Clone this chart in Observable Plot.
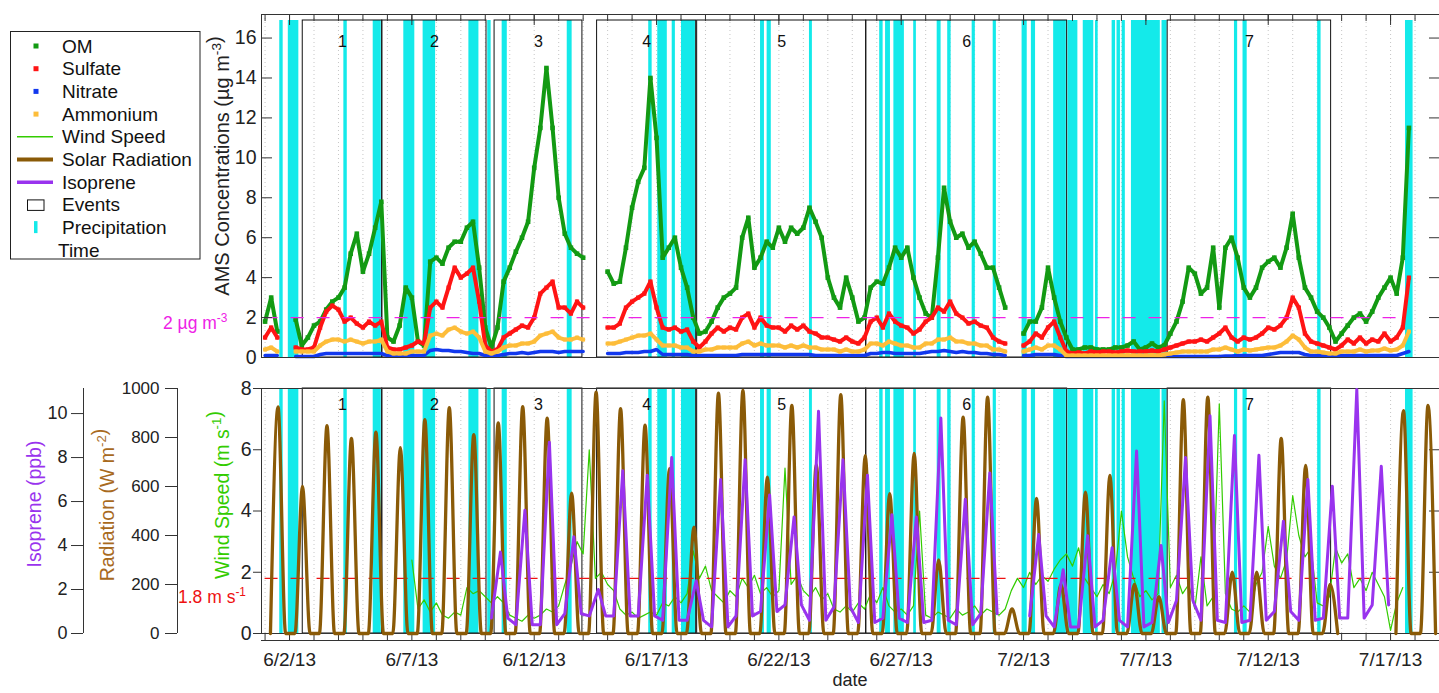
<!DOCTYPE html>
<html><head><meta charset="utf-8">
<script src="https://cdn.jsdelivr.net/npm/d3@7"></script>
<script src="https://cdn.jsdelivr.net/npm/@observablehq/plot@0.6"></script>
<style>
html,body{margin:0;padding:0;background:#fff;}
#chart{position:relative;width:1439px;height:693px;overflow:hidden;font-family:"Liberation Sans",Arial,sans-serif;background:#fff;}
#chart svg{position:absolute;}
</style></head><body><div id="chart"></div>
<script>
// ---------- DATA (times are days since 2013-06-02 00:00 UTC) ----------
const AMS_START = -1, AMS_STEP = 0.25;           // 6-hourly AMS readings
const OM = [
1.8,3.0,1.3,null, null,1.9,0.6,1.0, 1.6,1.8,2.4,2.8, 3.0,3.5,5.2,6.2, 4.3,5.2,6.5,7.8,
1.0,0.8,1.6,3.5, 3.0,0.8,0.6,4.8, 5.0,4.7,5.5,5.8, 5.8,6.5,6.8,4.5, 1.5,0.5,1.5,3.8,
4.5,5.3,6.0,6.8, 9.5,11.5,14.5,11.5, 8.0,6.2,5.5,5.2, 5.0,null,null,null, 4.3,3.7,3.8,5.5,
7.5,8.8,9.5,14.0, 11.0,5.0,5.5,6.0, 4.5,3.5,2.0,1.2, 1.3,1.8,2.5,3.0, 3.2,3.5,6.0,7.0,
4.5,5.0,5.8,5.5, 6.5,5.8,6.5,6.2, 6.5,7.5,6.8,6.0, 4.0,3.0,2.5,4.0, 3.0,1.8,2.0,3.5,
3.8,3.7,4.5,5.5, 5.0,5.5,4.0,3.0, 2.2,2.0,5.0,8.5, 6.8,6.0,6.2,5.5, 5.8,5.2,4.5,4.5,
3.5,2.5,null,null, 1.2,1.8,1.8,2.5, 4.5,3.0,1.8,1.0, 0.4,0.4,0.5,0.5, 0.4,0.4,0.4,0.5,
0.5,0.6,0.8,0.4, 0.5,0.7,0.5,0.6, 1.2,1.8,2.8,4.5, 4.2,3.2,3.5,5.5, 2.5,5.5,6.0,5.0,
3.5,3.0,3.5,4.5, 4.8,5.0,4.5,5.5, 7.2,5.0,3.5,3.0, 2.3,2.0,1.5,0.8, 1.2,1.6,2.0,2.2,
1.8,2.3,3.0,3.5, 4.0,3.2,5.0,11.5];
const SULFATE = [
1.0,1.5,1.0,null, null,0.5,0.4,0.4, 0.5,1.5,2.3,2.6, 2.4,1.8,2.0,1.7, 1.5,1.8,1.6,1.8,
0.5,0.4,0.4,0.5, 0.6,0.8,0.7,2.5, 2.8,2.5,3.5,4.5, 4.0,4.2,4.5,2.8, 0.6,0.3,0.4,1.0,
1.2,1.4,1.6,1.5, 2.0,3.2,3.5,3.8, 2.5,2.5,2.2,2.8, 2.5,null,null,null, 1.5,1.5,1.7,2.5,
2.8,3.0,3.2,3.8, 2.5,1.5,1.4,1.5, 1.3,1.4,0.8,0.5, 0.8,1.2,1.5,1.3, 1.5,1.4,2.0,2.2,
1.5,2.0,1.6,1.5, 1.5,1.3,1.6,1.4, 1.6,1.3,1.2,1.0, 1.0,0.9,0.8,1.0, 0.8,0.7,1.0,1.8,
2.0,1.5,2.2,1.8, 1.6,1.5,1.2,1.4, 1.8,2.0,2.5,2.3, 2.8,2.2,2.0,1.7, 1.8,1.6,1.5,1.0,
0.8,0.7,null,null, 0.6,0.8,1.2,1.0, 1.5,1.8,1.0,0.3, 0.2,0.25,0.2,0.3, 0.25,0.3,0.3,0.25,
0.3,0.35,0.3,0.3, 0.3,0.35,0.3,0.4, 0.5,0.6,0.7,0.8, 0.8,0.9,0.8,1.0, 1.2,1.5,1.0,0.8,
1.0,0.9,1.0,1.2, 1.5,1.4,1.6,2.0, 3.0,2.5,1.2,0.8, 0.7,0.6,0.5,0.4, 0.6,0.9,0.7,1.0,
0.7,0.9,0.8,1.2, 0.8,1.0,1.5,4.0];
const NITRATE = [
0.1,0.1,0.1,null, null,0.05,0.05,0.05, 0.05,0.15,0.2,0.2, 0.2,0.2,0.2,0.2, 0.2,0.2,0.2,0.2,
0.1,0.1,0.1,0.1, 0.1,0.1,0.1,0.35, 0.4,0.35,0.35,0.3, 0.3,0.25,0.2,0.2, 0.1,0.1,0.1,0.15,
0.2,0.2,0.25,0.2, 0.25,0.3,0.3,0.3, 0.25,0.3,0.3,0.3, 0.3,null,null,null, 0.2,0.2,0.2,0.25,
0.25,0.25,0.3,0.3, 0.4,0.15,0.15,0.15, 0.15,0.15,0.1,0.1, 0.1,0.1,0.1,0.1, 0.1,0.1,0.15,0.15,
0.15,0.15,0.15,0.15, 0.15,0.15,0.15,0.15, 0.15,0.15,0.1,0.1, 0.1,0.1,0.1,0.1, 0.1,0.1,0.1,0.2,
0.2,0.25,0.25,0.2, 0.2,0.2,0.2,0.2, 0.25,0.3,0.3,0.35, 0.3,0.25,0.3,0.25, 0.25,0.2,0.2,0.15,
0.15,0.1,null,null, 0.1,0.1,0.15,0.15, 0.15,0.15,0.1,0.05, 0.05,0.05,0.05,0.05, 0.05,0.05,0.05,0.05,
0.05,0.05,0.05,0.05, 0.05,0.05,0.05,0.05, 0.05,0.05,0.05,0.05, 0.05,0.05,0.05,0.05, 0.05,0.08,0.08,0.1,
0.1,0.1,0.1,0.1, 0.15,0.2,0.25,0.25, 0.25,0.25,0.15,0.1, 0.1,0.1,0.1,0.08, 0.1,0.1,0.1,0.1,
0.1,0.1,0.1,0.1, 0.1,0.1,0.2,0.3];
const AMMONIUM = [
0.4,0.5,0.3,null, null,0.3,0.3,0.3, 0.3,0.6,0.8,0.9, 0.9,0.8,0.9,0.8, 0.7,0.8,0.8,0.9,
0.3,0.2,0.2,0.2, 0.3,0.3,0.3,1.1, 1.2,1.1,1.4,1.5, 1.3,1.2,1.3,1.0, 0.3,0.2,0.3,0.5,
0.6,0.6,0.7,0.7, 0.8,1.1,1.2,1.3, 1.0,0.9,0.9,1.0, 0.9,null,null,null, 0.7,0.7,0.8,0.9,
1.0,1.1,1.1,1.2, 0.9,0.6,0.6,0.6, 0.5,0.5,0.3,0.3, 0.4,0.4,0.5,0.5, 0.5,0.5,0.7,0.8,
0.6,0.7,0.6,0.6, 0.6,0.5,0.6,0.5, 0.6,0.5,0.5,0.4, 0.4,0.4,0.3,0.4, 0.3,0.3,0.4,0.7,
0.7,0.6,0.8,0.7, 0.6,0.6,0.5,0.5, 0.7,0.7,0.9,0.9, 1.0,0.8,0.8,0.7, 0.7,0.6,0.6,0.4,
0.4,0.3,null,null, 0.3,0.4,0.5,0.4, 0.6,0.6,0.4,0.1, 0.1,0.1,0.1,0.1, 0.1,0.1,0.1,0.1,
0.1,0.12,0.1,0.1, 0.1,0.12,0.1,0.15, 0.2,0.25,0.3,0.3, 0.3,0.3,0.3,0.4, 0.4,0.5,0.4,0.3,
0.4,0.35,0.4,0.45, 0.5,0.5,0.6,0.8, 1.1,0.9,0.5,0.3, 0.3,0.25,0.2,0.2, 0.3,0.3,0.3,0.4,
0.3,0.35,0.35,0.45, 0.35,0.4,0.6,1.3];

const WIND_START = 5, WIND_STEP = 0.25;          // 6-hourly wind speed (m/s)
const WIND = [
2.4,0.8,1.1,0.7, 1.0,0.6,0.5,0.7, 0.6,1.5,1.3,1.4, 1.2,1.0,1.2,1.0, 0.6,0.5,0.4,0.6,
0.5,0.6,0.8,0.7, 0.9,1.6,2.2,3.0, 2.6,6.0,1.8,2.0, 1.6,1.4,0.8,0.6, 0.7,0.5,0.6,0.7,
0.6,1.0,0.9,1.2, 1.0,1.3,2.7,1.8, 2.2,1.4,1.2,1.0, 1.4,1.2,1.8,1.5, 1.9,1.3,1.5,1.2,
1.4,5.4,1.6,1.9, 1.4,1.2,1.5,1.1, 1.3,0.8,0.7,0.9, 0.7,1.0,0.8,1.3, 1.0,1.5,0.9,0.7,
0.8,0.6,0.9,4.0, 0.6,0.5,0.7,0.6, 0.5,0.8,0.6,0.7, 0.9,0.6,0.8,0.7, 0.6,0.8,1.4,1.8,
1.5,2.0,1.6,1.9, 1.7,2.1,2.4,2.6, 2.2,2.8,1.8,1.5, 1.2,1.6,1.3,2.0, 4.0,2.5,1.8,1.2,
1.4,1.1,1.3,7.6, 1.5,1.9,1.3,1.6, 0.8,2.5,0.9,1.2, 7.5,1.3,0.8,0.7, 0.9,0.7,1.6,2.0,
3.5,2.2,1.8,2.4, 4.5,3.2,2.5,2.8, 1.0,0.9,1.2,2.8, 2.3,2.6,1.5,1.8, 1.4,2.0,1.6,1.2,
0.1,1.0,1.5];

const RAD_FIRST_DAY = -1;                          // daily solar-radiation peaks (W m-2), 6/1 .. 7/18
const RAD_PEAK = [925,600,848,796,822,759,873,922,812,860,926,879,573,985,918,850,673,434,981,992,
638,931,690,975,726,571,735,300,883,965,100,551,200,577,645,200,150,955,965,250,250,796,686,200,null,null,910,931];
const SUNRISE = 0.22, SOLAR_NOON = 0.53, SUNSET = 0.84;

const ISO_FIRST_DAY = 8;                           // daily isoprene peak / night level (ppb), 6/10 .. 7/16
const ISO_PEAK = [3.7,5.6,8.7,4.4,2.0,7.4,7.2,8.0,2.4,7.0,7.9,6.3,5.3,10.1,7.9,7.2,5.4,5.3,9.8,6.1,7.3,null,
4.5,2.9,4.45,3.9,8.3,4.0,8.0,9.9,9.0,8.1,5.1,7.0,6.7,11.1,7.6];
const ISO_LOW = [0.7,0.4,0.4,0.9,0.8,0.8,0.8,0.6,0.6,0.3,0.8,1.0,1.3,0.6,1.2,0.5,0.7,0.5,0.6,0.4,0.9,null,
0.8,0.3,0.3,0.6,0.3,0.5,1.5,0.6,0.5,0.6,1.0,0.6,0.7,0.7,1.3];
const ISO_RISE = 0.25, ISO_TOP = 0.62, ISO_FALL = 0.92;

const RAIN_START = [-0.40,-0.05,2.22,3.42,4.67,5.46,7.33,8.10,8.69,11.35,14.68,15.05,15.64,16.02,19.25,19.52,21.25,
24.12,24.36,24.70,25.51,26.47,26.90,27.90,28.76,29.94,30.32,31.23,31.81,32.44,32.94,33.62,33.82,34.03,34.41,35.66,38.62,38.97,42.02,45.61];
const RAIN_END = [-0.26,0.38,2.36,3.75,5.12,5.97,7.74,8.24,8.90,11.55,14.82,15.44,15.77,16.59,19.41,19.69,21.37,
24.26,24.56,25.13,25.62,26.63,27.04,28.03,28.89,30.15,30.49,31.75,32.22,32.87,33.05,33.76,33.96,34.16,35.59,35.87,38.75,39.14,42.16,45.92];

const EVENT_START = [0.54,3.79,8.38,12.57,16.66,23.57,35.89];
const EVENT_END   = [3.79,8.05,11.97,16.62,23.57,31.78,42.57];
const EVENT_LABEL = ["1","2","3","4","5","6","7"];

const DATE_TICK_LABELS = ["6/2/13","6/7/13","6/12/13","6/17/13","6/22/13","6/27/13","7/2/13","7/7/13","7/12/13","7/17/13"];
const AMS_TICKS = [0,2,4,6,8,10,12,14,16];
const WIND_TICKS = [0,2,4,6,8];
const RAD_TICKS = [0,200,400,600,800,1000];
const ISO_TICKS = [0,2,4,6,8,10];
const AMS_THRESHOLD = 2, WIND_THRESHOLD = 1.8;

// ---------- COLOURS ----------
const C = {om:"#139a13", so4:"#ff1414", no3:"#1238ee", nh4:"#fdbd3a", wind:"#33cc00", rad:"#8a5a07",
  iso:"#9933ee", rain:"#14eaea", mag:"#ee22e6", red:"#ee1111", ink:"#222"};

// ---------- BUILD TABLES ----------
const BASE = Date.UTC(2013,5,2);
const toDate = d => new Date(BASE + d*864e5);
const series = (arr, start, step) => arr.map((v,i) => ({t: toDate(start + i*step), v: v == null ? NaN : v}));
const om = series(OM, AMS_START, AMS_STEP), so4 = series(SULFATE, AMS_START, AMS_STEP),
      no3 = series(NITRATE, AMS_START, AMS_STEP), nh4 = series(AMMONIUM, AMS_START, AMS_STEP);
const wind = series(WIND, WIND_START, WIND_STEP);
const rad = RAD_PEAK.flatMap((p,i) => { const d = RAD_FIRST_DAY + i;
  return p == null ? [{t: toDate(d+SOLAR_NOON), v: NaN}] :
    [{t:toDate(d+SUNRISE), v:0},{t:toDate(d+SOLAR_NOON), v:p},{t:toDate(d+SUNSET), v:0}]; });
const iso = ISO_PEAK.flatMap((p,i) => { const d = ISO_FIRST_DAY + i, lo = ISO_LOW[i];
  return p == null ? [{t: toDate(d+ISO_TOP), v: NaN}] :
    [{t:toDate(d+ISO_RISE), v:lo},{t:toDate(d+ISO_TOP), v:p},{t:toDate(d+ISO_FALL), v:lo}]; });
const rain = RAIN_START.map((s,i) => ({start: toDate(s), end: toDate(RAIN_END[i])}));
const events = EVENT_START.map((s,i) => ({start: toDate(s), end: toDate(EVENT_END[i]),
  mid: toDate((s + EVENT_END[i]) / 2), label: EVENT_LABEL[i]}));
const parseTick = d3.utcParse("%m/%d/%y");
const dateTicks = DATE_TICK_LABELS.map(parseTick);
const dayTicks = d3.utcDay.range(parseTick("6/1/13"), parseTick("7/19/13"));
const fmtTick = d3.utcFormat("%-m/%-d/%y");
const firstT = () => om[0].t, lastT = () => om[om.length-1].t;

const X = {type:"utc", domain:[new Date(Date.UTC(2013,4,31,20,30)), new Date(Date.UTC(2013,6,19))], axis:null};
const FONT = '"Liberation Sans", Arial, sans-serif';
const st = (top, left=0) => ({position:"absolute", left:left+"px", top:top+"px", background:"transparent", fontFamily:FONT, color:C.ink, overflow:"visible"});
const blank = () => "";
const plain = d => String(d);
const chart = document.getElementById("chart");

// ---------- TOP PANEL: AMS ----------
const topPlot = Plot.plot({
  width:1439, height:370, marginLeft:261, marginRight:0, marginTop:14, marginBottom:13,
  x:X, y:{domain:[0,17.18], axis:null}, style:{...st(0), background:"#fff"},
  marks:[
    Plot.gridX(dayTicks, {stroke:"#b8b8b8", strokeOpacity:1, strokeDasharray:"1,3", strokeWidth:0.8}),
    Plot.rect(rain, {x1:"start", x2:"end", fill:C.rain, insetTop:6}),
    Plot.rect(events, {x1:"start", x2:"end", stroke:"#111", strokeWidth:1, fill:"none", insetTop:6}),
    Plot.text(events, {x:"mid", text:"label", frameAnchor:"top", dy:21, fontSize:16, fill:"#111"}),
    Plot.line(om, {x:"t", y:"v", stroke:C.om, strokeWidth:4}),
    Plot.dot(om, {x:"t", y:"v", symbol:"square", r:2.6, fill:C.om}),
    Plot.line(so4, {x:"t", y:"v", stroke:C.so4, strokeWidth:4}),
    Plot.dot(so4, {x:"t", y:"v", symbol:"square", r:2.4, fill:C.so4}),
    Plot.line(no3, {x:"t", y:"v", stroke:C.no3, strokeWidth:3.5}),
    Plot.line(nh4, {x:"t", y:"v", stroke:C.nh4, strokeWidth:4}),
    Plot.dot(nh4, {x:"t", y:"v", symbol:"square", r:2.2, fill:C.nh4}),
    Plot.ruleY([AMS_THRESHOLD], {x1:firstT, x2:lastT, stroke:C.mag, strokeWidth:1.3, strokeDasharray:"13,13"}),
    Plot.frame({stroke:"#333"}),
    Plot.axisY(AMS_TICKS, {anchor:"left", tickSize:0, tickPadding:5, fontSize:19.5, label:null, tickFormat:plain}),
    Plot.axisY(AMS_TICKS, {anchor:"left", tickSize:11, dx:11, tickFormat:blank, label:null, stroke:"#333"}),
    Plot.axisY(AMS_TICKS.filter(v => v > 0), {anchor:"right", tickSize:11, dx:-11, tickFormat:blank, label:null, stroke:"#333"}),
    Plot.axisX(dayTicks, {anchor:"top", tickSize:6, dy:6, tickFormat:blank, label:null, stroke:"#333"}),
    Plot.axisX(dateTicks, {anchor:"top", tickSize:10, dy:10, tickFormat:blank, label:null, stroke:"#333"})
  ]
});
chart.appendChild(topPlot);

// ---------- BOTTOM PANEL: wind (base) ----------
const BOT = {width:1439, height:323, marginLeft:261, marginRight:0, marginTop:18, marginBottom:60};
const botPlot = Plot.plot({
  ...BOT, x:X, y:{domain:[0,8], axis:null}, style:{...st(370), background:"#fff"},
  marks:[
    Plot.gridX(dayTicks, {stroke:"#b8b8b8", strokeOpacity:1, strokeDasharray:"1,3", strokeWidth:0.8}),
    Plot.rect(rain, {x1:"start", x2:"end", fill:C.rain}),
    Plot.rect(events, {x1:"start", x2:"end", stroke:"#111", strokeWidth:1, fill:"none"}),
    Plot.text(events, {x:"mid", text:"label", frameAnchor:"top", dy:10, fontSize:16, fill:"#111"}),
    Plot.line(wind, {x:"t", y:"v", stroke:C.wind, strokeWidth:1.2}),
    Plot.ruleY([WIND_THRESHOLD], {x1:firstT, x2:lastT, stroke:C.red, strokeWidth:1.3, strokeDasharray:"13,13"}),
    Plot.frame({stroke:"#333"}),
    Plot.ruleY([0], {dy:7, stroke:"#333"}),
    Plot.axisY(WIND_TICKS, {anchor:"left", tickSize:8, tickPadding:2, fontSize:19.5, label:null, stroke:"#333", tickFormat:plain}),
    Plot.axisY([2,4,6], {anchor:"right", tickSize:11, dx:-11, tickFormat:blank, label:null, stroke:"#333"}),
    Plot.axisX(dayTicks, {anchor:"bottom", tickSize:7, tickFormat:blank, label:null, stroke:"#333"}),
    Plot.axisX(dateTicks, {anchor:"bottom", tickSize:0, tickPadding:19, tickFormat:fmtTick, fontSize:19, label:null})
  ]
});
chart.appendChild(botPlot);

// radiation overlay
chart.appendChild(Plot.plot({...BOT, x:X, y:{domain:[0,1000], axis:null}, style:st(370),
  marks:[Plot.line(rad, {x:"t", y:"v", stroke:C.rad, strokeWidth:3.3, curve:"monotone-x"})]}));
// isoprene overlay
chart.appendChild(Plot.plot({...BOT, x:X, y:{domain:[0,11.14], axis:null}, style:st(370),
  marks:[Plot.line(iso, {x:"t", y:"v", stroke:C.iso, strokeWidth:3})]}));

// extra left axes
chart.appendChild(Plot.plot({width:180, height:323, marginLeft:177, marginRight:3, marginTop:18, marginBottom:60,
  x:{domain:[0,1], axis:null}, y:{domain:[0,1000], axis:null}, style:st(370),
  marks:[Plot.ruleX([0], {stroke:"#333"}),
    Plot.axisY(RAD_TICKS, {anchor:"left", tickSize:12, tickPadding:6, fontSize:17, label:null, stroke:"#333", tickFormat:plain})]}));
chart.appendChild(Plot.plot({width:90, height:323, marginLeft:83, marginRight:7, marginTop:18, marginBottom:60,
  x:{domain:[0,1], axis:null}, y:{domain:[0,11.14], axis:null}, style:st(370),
  marks:[Plot.ruleX([0], {stroke:"#333"}),
    Plot.axisY(ISO_TICKS, {anchor:"left", tickSize:12, tickPadding:4, fontSize:18, label:null, stroke:"#333", tickFormat:plain})]}));

// ---------- TITLES, LABELS, LEGEND ----------
const svg = d3.select(chart).append("svg").attr("width",1439).attr("height",693)
  .style("left","0px").style("top","0px").attr("font-family", FONT);
function richText(x, y, parts, color, size, rotate, anchor) {
  const t = svg.append("text").attr("transform", `translate(${x},${y})` + (rotate ? " rotate(-90)" : ""))
    .attr("text-anchor", anchor || "middle").attr("fill", color).attr("font-size", size);
  parts.forEach(([s, sup]) => {
    if (sup) {
      t.append("tspan").attr("font-size", size*0.68).attr("dy", -size*0.42).text(s);
      t.append("tspan").attr("font-size", size).attr("dy", size*0.42).text("");
    } else t.append("tspan").text(s);
  });
}
richText(229, 166, [["AMS Concentrations (\u00B5g m"],["-3",1],[")"]], "#222", 20, true);
richText(229, 495, [["Wind Speed (m s"],["-1",1],[")"]], C.wind, 19.5, true);
richText(114, 505, [["Radiation (W m"],["-2",1],[")"]], "#a86a1e", 19.5, true);
richText(41, 504, [["Isoprene (ppb)"]], C.iso, 19.5, true);
richText(163, 329, [["2 \u00B5g m"],["-3",1]], C.mag, 17.5, false, "start");
richText(178, 603, [["1.8 m s"],["-1",1]], C.red, 17.5, false, "start");
svg.append("text").attr("x",850).attr("y",686).attr("text-anchor","middle").attr("font-size",18).attr("fill","#222").text("date");

// legend
const LEGEND = [
  {label:"OM", kind:"square", color:C.om}, {label:"Sulfate", kind:"square", color:C.so4},
  {label:"Nitrate", kind:"square", color:C.no3}, {label:"Ammonium", kind:"square", color:C.nh4},
  {label:"Wind Speed", kind:"line", color:C.wind, w:1.5}, {label:"Solar Radiation", kind:"line", color:C.rad, w:4},
  {label:"Isoprene", kind:"line", color:C.iso, w:3.5}, {label:"Events", kind:"box", color:"#111"},
  {label:"Precipitation", kind:"bar", color:C.rain}, {label:"Time", kind:"none", color:"#222"}];
const lg = svg.append("g");
lg.append("rect").attr("x",10.5).attr("y",31.5).attr("width",189.5).attr("height",227.5).attr("fill","#fff").attr("stroke","#222");
LEGEND.forEach((e,i) => {
  const cy = 46 + i*22.7;
  if (e.kind === "square") lg.append("rect").attr("x",33.5).attr("y",cy-2.5).attr("width",5).attr("height",5).attr("fill",e.color);
  if (e.kind === "line") lg.append("line").attr("x1",17).attr("x2",53).attr("y1",cy).attr("y2",cy).attr("stroke",e.color).attr("stroke-width",e.w);
  if (e.kind === "box") lg.append("rect").attr("x",27.5).attr("y",cy-5).attr("width",16.5).attr("height",10.5).attr("fill","none").attr("stroke",e.color);
  if (e.kind === "bar") lg.append("rect").attr("x",34).attr("y",cy-6.5).attr("width",3.5).attr("height",12).attr("fill",e.color);
  lg.append("text").attr("x", e.kind === "none" ? 58 : 62).attr("y", cy+6.5).attr("font-size",19).attr("fill","#111").text(e.label);
});
</script></body></html>
